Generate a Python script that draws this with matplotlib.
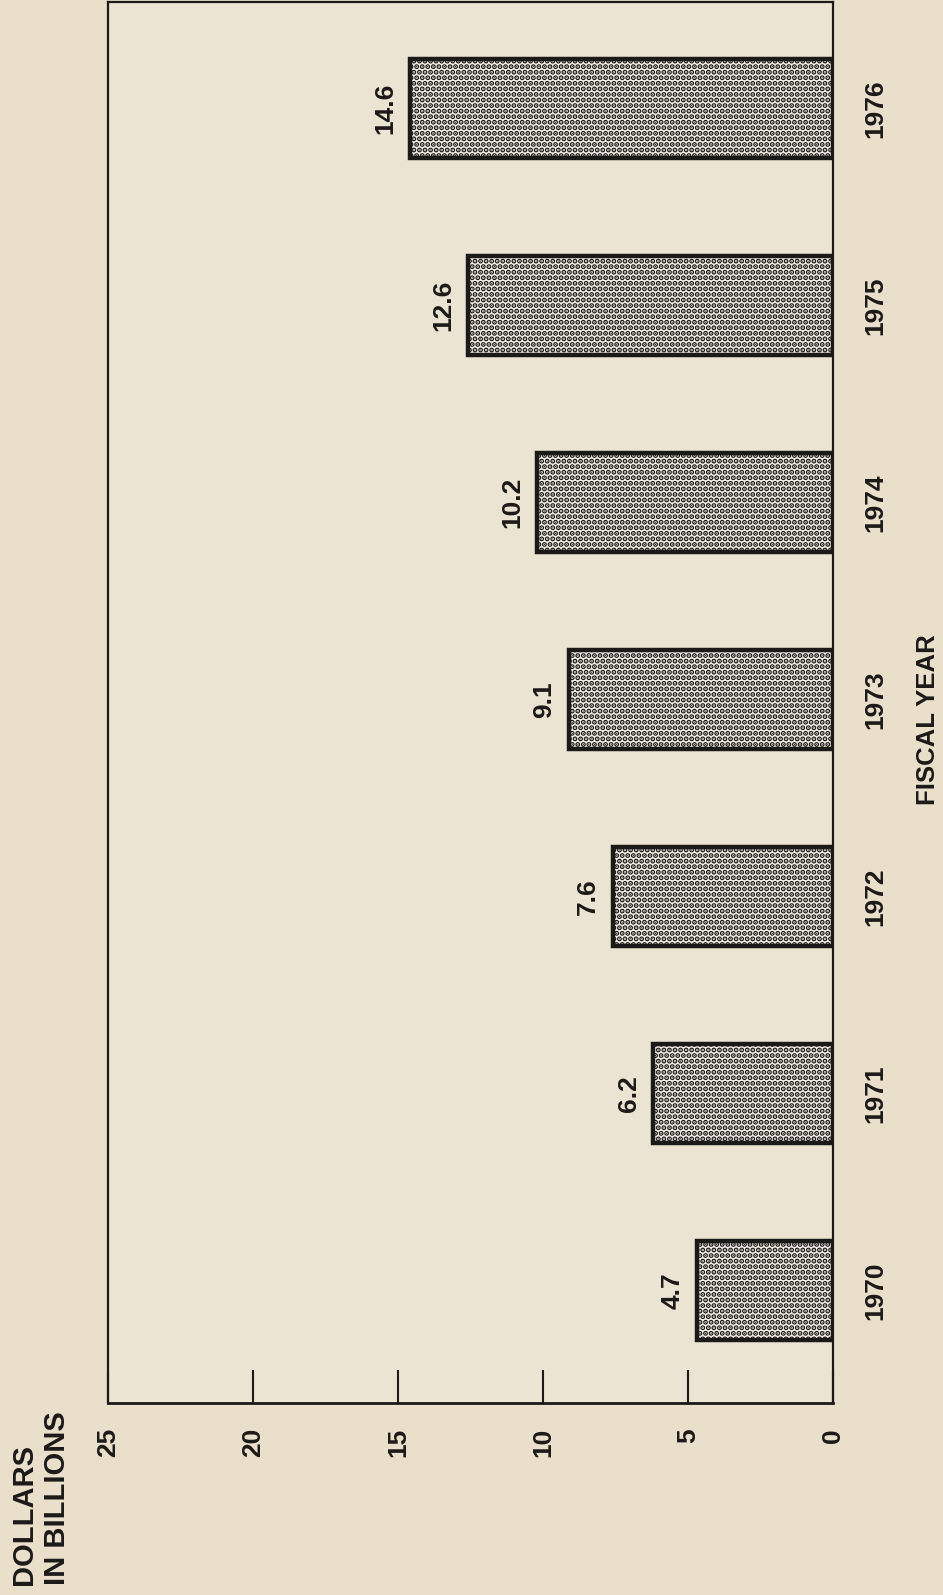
import matplotlib
matplotlib.use("Agg")
import matplotlib.pyplot as plt

# Datos del gráfico (rotado 90 grados en el original)
anios = ["1970", "1971", "1972", "1973", "1974", "1975", "1976"]
valores = [4.7, 6.2, 7.6, 9.1, 10.2, 12.6, 14.6]
etiquetas = ["4.7", "6.2", "7.6", "9.1", "10.2", "12.6", "14.6"]
marcas = [0, 5, 10, 15, 20, 25]

plt.rcParams["font.family"] = ["Liberation Sans", "DejaVu Sans"]
plt.rcParams["font.weight"] = "bold"
plt.rcParams["hatch.linewidth"] = 2.6
plt.rcParams["hatch.color"] = "#1c1a18"

fondo = "#e9dfcb"
tinta = "#1c1a18"

fig = plt.figure(figsize=(9.43, 15.95), dpi=100, facecolor=fondo)
ax = fig.add_axes([0.1145, 0.1204, 0.7688, 0.8784], facecolor="#ece4d2")

pos = list(range(len(anios)))
ax.barh(pos, valores, height=0.5, color="#f3efe6", edgecolor=tinta,
        linewidth=3.2, hatch="...", zorder=2)

ax.set_xlim(25, 0)
ax.set_ylim(-0.57, 6.54)

for s in ax.spines.values():
    s.set_color(tinta)
    s.set_linewidth(1.6)
ax.spines["bottom"].set_linewidth(2.0)

ax.set_xticks(marcas)
ax.set_xticklabels([str(m) for m in marcas], rotation=90, fontsize=19,
                   color=tinta, va="top", ha="center")
ax.tick_params(axis="x", direction="in", length=24, width=1.5,
               color=tinta, pad=18)

ax.yaxis.tick_right()
ax.set_yticks(pos)
ax.set_yticklabels(anios, rotation=90, fontsize=19, color=tinta,
                   va="center", ha="left")
ax.tick_params(axis="y", length=0, pad=22)

for p, v, t in zip(pos, valores, etiquetas):
    ax.annotate(t, xy=(v, p), xytext=(-9, 0), textcoords="offset points",
                rotation=90, ha="right", va="center", fontsize=19, color=tinta)

fig.text(0.043, 0.006, "DOLLARS\nIN BILLIONS", rotation=90, ha="center",
         va="bottom", multialignment="left", fontsize=21, color=tinta,
         linespacing=1.2)
fig.text(0.984, 0.549, "FISCAL YEAR", rotation=90, ha="center", va="center",
         fontsize=18.5, color=tinta)

fig.savefig("out.png", dpi=100, facecolor=fondo)
